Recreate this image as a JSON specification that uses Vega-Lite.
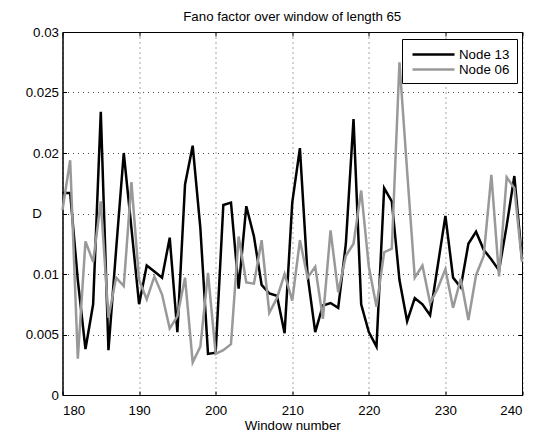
{
  "$schema": "https://vega.github.io/schema/vega-lite/v6.json",
  "width": 459.5,
  "height": 363,
  "autosize": "none",
  "padding": {"left": 62.5, "top": 32, "right": 18, "bottom": 38},
  "background": "white",
  "title": {"text": "Fano factor over window of length 65", "fontSize": 13.3, "fontWeight": "normal", "font": "Liberation Sans", "color": "black", "baseline": "alphabetic", "offset": -9, "anchor": "middle"},
  "config": {
    "view": {"stroke": "black", "strokeWidth": 1},
    "axis": {"labelFont": "Liberation Sans", "labelFontSize": 13.3, "labelColor": "black", "titleFont": "Liberation Sans", "titleFontSize": 13.3, "titleFontWeight": "normal", "titleColor": "black", "domainColor": "black", "tickColor": "black", "tickSize": -4}
  },
  "data": {"values": [
    {"window": 180, "D": 0.0167, "node": "Node 13"},
    {"window": 181, "D": 0.0167, "node": "Node 13"},
    {"window": 182, "D": 0.0095, "node": "Node 13"},
    {"window": 183, "D": 0.0038, "node": "Node 13"},
    {"window": 184, "D": 0.0075, "node": "Node 13"},
    {"window": 185, "D": 0.0234, "node": "Node 13"},
    {"window": 186, "D": 0.0037, "node": "Node 13"},
    {"window": 187, "D": 0.0120, "node": "Node 13"},
    {"window": 188, "D": 0.0200, "node": "Node 13"},
    {"window": 189, "D": 0.0138, "node": "Node 13"},
    {"window": 190, "D": 0.0075, "node": "Node 13"},
    {"window": 191, "D": 0.0107, "node": "Node 13"},
    {"window": 192, "D": 0.0102, "node": "Node 13"},
    {"window": 193, "D": 0.0097, "node": "Node 13"},
    {"window": 194, "D": 0.0130, "node": "Node 13"},
    {"window": 195, "D": 0.0052, "node": "Node 13"},
    {"window": 196, "D": 0.0174, "node": "Node 13"},
    {"window": 197, "D": 0.0206, "node": "Node 13"},
    {"window": 198, "D": 0.0138, "node": "Node 13"},
    {"window": 199, "D": 0.0034, "node": "Node 13"},
    {"window": 200, "D": 0.0035, "node": "Node 13"},
    {"window": 201, "D": 0.0157, "node": "Node 13"},
    {"window": 202, "D": 0.0159, "node": "Node 13"},
    {"window": 203, "D": 0.0088, "node": "Node 13"},
    {"window": 204, "D": 0.0156, "node": "Node 13"},
    {"window": 205, "D": 0.0131, "node": "Node 13"},
    {"window": 206, "D": 0.0091, "node": "Node 13"},
    {"window": 207, "D": 0.0084, "node": "Node 13"},
    {"window": 208, "D": 0.0082, "node": "Node 13"},
    {"window": 209, "D": 0.0051, "node": "Node 13"},
    {"window": 210, "D": 0.0159, "node": "Node 13"},
    {"window": 211, "D": 0.0204, "node": "Node 13"},
    {"window": 212, "D": 0.0099, "node": "Node 13"},
    {"window": 213, "D": 0.0052, "node": "Node 13"},
    {"window": 214, "D": 0.0074, "node": "Node 13"},
    {"window": 215, "D": 0.0076, "node": "Node 13"},
    {"window": 216, "D": 0.0072, "node": "Node 13"},
    {"window": 217, "D": 0.0125, "node": "Node 13"},
    {"window": 218, "D": 0.0228, "node": "Node 13"},
    {"window": 219, "D": 0.0075, "node": "Node 13"},
    {"window": 220, "D": 0.0052, "node": "Node 13"},
    {"window": 221, "D": 0.0040, "node": "Node 13"},
    {"window": 222, "D": 0.0171, "node": "Node 13"},
    {"window": 223, "D": 0.0160, "node": "Node 13"},
    {"window": 224, "D": 0.0095, "node": "Node 13"},
    {"window": 225, "D": 0.0061, "node": "Node 13"},
    {"window": 226, "D": 0.0080, "node": "Node 13"},
    {"window": 227, "D": 0.0075, "node": "Node 13"},
    {"window": 228, "D": 0.0066, "node": "Node 13"},
    {"window": 229, "D": 0.0107, "node": "Node 13"},
    {"window": 230, "D": 0.0148, "node": "Node 13"},
    {"window": 231, "D": 0.0097, "node": "Node 13"},
    {"window": 232, "D": 0.0089, "node": "Node 13"},
    {"window": 233, "D": 0.0125, "node": "Node 13"},
    {"window": 234, "D": 0.0135, "node": "Node 13"},
    {"window": 235, "D": 0.0120, "node": "Node 13"},
    {"window": 236, "D": 0.0112, "node": "Node 13"},
    {"window": 237, "D": 0.0103, "node": "Node 13"},
    {"window": 238, "D": 0.0140, "node": "Node 13"},
    {"window": 239, "D": 0.0181, "node": "Node 13"},
    {"window": 240, "D": 0.0112, "node": "Node 13"},
    {"window": 180, "D": 0.0153, "node": "Node 06"},
    {"window": 181, "D": 0.0194, "node": "Node 06"},
    {"window": 182, "D": 0.0030, "node": "Node 06"},
    {"window": 183, "D": 0.0127, "node": "Node 06"},
    {"window": 184, "D": 0.0110, "node": "Node 06"},
    {"window": 185, "D": 0.0160, "node": "Node 06"},
    {"window": 186, "D": 0.0064, "node": "Node 06"},
    {"window": 187, "D": 0.0097, "node": "Node 06"},
    {"window": 188, "D": 0.0090, "node": "Node 06"},
    {"window": 189, "D": 0.0176, "node": "Node 06"},
    {"window": 190, "D": 0.0095, "node": "Node 06"},
    {"window": 191, "D": 0.0079, "node": "Node 06"},
    {"window": 192, "D": 0.0098, "node": "Node 06"},
    {"window": 193, "D": 0.0083, "node": "Node 06"},
    {"window": 194, "D": 0.0055, "node": "Node 06"},
    {"window": 195, "D": 0.0065, "node": "Node 06"},
    {"window": 196, "D": 0.0097, "node": "Node 06"},
    {"window": 197, "D": 0.0027, "node": "Node 06"},
    {"window": 198, "D": 0.0040, "node": "Node 06"},
    {"window": 199, "D": 0.0101, "node": "Node 06"},
    {"window": 200, "D": 0.0034, "node": "Node 06"},
    {"window": 201, "D": 0.0037, "node": "Node 06"},
    {"window": 202, "D": 0.0042, "node": "Node 06"},
    {"window": 203, "D": 0.0131, "node": "Node 06"},
    {"window": 204, "D": 0.0093, "node": "Node 06"},
    {"window": 205, "D": 0.0092, "node": "Node 06"},
    {"window": 206, "D": 0.0128, "node": "Node 06"},
    {"window": 207, "D": 0.0068, "node": "Node 06"},
    {"window": 208, "D": 0.0080, "node": "Node 06"},
    {"window": 209, "D": 0.0100, "node": "Node 06"},
    {"window": 210, "D": 0.0078, "node": "Node 06"},
    {"window": 211, "D": 0.0128, "node": "Node 06"},
    {"window": 212, "D": 0.0097, "node": "Node 06"},
    {"window": 213, "D": 0.0106, "node": "Node 06"},
    {"window": 214, "D": 0.0063, "node": "Node 06"},
    {"window": 215, "D": 0.0136, "node": "Node 06"},
    {"window": 216, "D": 0.0085, "node": "Node 06"},
    {"window": 217, "D": 0.0115, "node": "Node 06"},
    {"window": 218, "D": 0.0125, "node": "Node 06"},
    {"window": 219, "D": 0.0169, "node": "Node 06"},
    {"window": 220, "D": 0.0106, "node": "Node 06"},
    {"window": 221, "D": 0.0073, "node": "Node 06"},
    {"window": 222, "D": 0.0118, "node": "Node 06"},
    {"window": 223, "D": 0.0121, "node": "Node 06"},
    {"window": 224, "D": 0.0275, "node": "Node 06"},
    {"window": 225, "D": 0.0185, "node": "Node 06"},
    {"window": 226, "D": 0.0097, "node": "Node 06"},
    {"window": 227, "D": 0.0107, "node": "Node 06"},
    {"window": 228, "D": 0.0076, "node": "Node 06"},
    {"window": 229, "D": 0.0088, "node": "Node 06"},
    {"window": 230, "D": 0.0104, "node": "Node 06"},
    {"window": 231, "D": 0.0072, "node": "Node 06"},
    {"window": 232, "D": 0.0096, "node": "Node 06"},
    {"window": 233, "D": 0.0062, "node": "Node 06"},
    {"window": 234, "D": 0.0099, "node": "Node 06"},
    {"window": 235, "D": 0.0115, "node": "Node 06"},
    {"window": 236, "D": 0.0182, "node": "Node 06"},
    {"window": 237, "D": 0.0098, "node": "Node 06"},
    {"window": 238, "D": 0.0180, "node": "Node 06"},
    {"window": 239, "D": 0.0171, "node": "Node 06"},
    {"window": 240, "D": 0.0110, "node": "Node 06"}
  ]},
  "layer": [
    {
      "mark": {"type": "line", "strokeWidth": 2.5},
      "encoding": {
        "x": {"field": "window", "type": "quantitative", "scale": {"domain": [180, 240], "nice": false, "zero": false},
              "axis": {"values": [180, 190, 200, 210, 220, 230, 240], "grid": true, "gridColor": "#000000", "gridDash": [1, 4], "gridOpacity": 0.7, "labelPadding": 12, "title": "Window number", "titlePadding": 2}},
        "y": {"field": "D", "type": "quantitative", "scale": {"domain": [0, 0.03], "nice": false},
              "axis": {"values": [0, 0.005, 0.01, 0.015, 0.02, 0.025, 0.03], "format": "~g", "labelExpr": "datum.value == 0.015 ? '' : datum.label", "grid": true, "gridColor": "#000000", "gridDash": [1, 4], "gridOpacity": 0.7, "labelPadding": 8, "title": "D", "titleAngle": 0, "titleX": -26, "titleY": 181, "titleAlign": "center", "titleBaseline": "middle"}},
        "color": {"field": "node", "type": "nominal", "scale": {"domain": ["Node 13", "Node 06"], "range": ["#000000", "#999999"]},
                  "legend": {"title": null, "orient": "none", "legendX": 339.5, "legendY": 7, "strokeColor": "black", "fillColor": "white", "padding": 7, "symbolType": "M-3,0H3", "symbolSize": 196, "symbolStrokeWidth": 2.5, "symbolOffset": 16, "labelOffset": 17, "labelFont": "Liberation Sans", "labelFontSize": 13.3, "labelColor": "black", "rowPadding": -3}}
      }
    },
    {
      "mark": {"type": "point", "opacity": 0},
      "encoding": {
        "x": {"field": "window", "type": "quantitative", "axis": {"orient": "top", "values": [180, 190, 200, 210, 220, 230, 240], "labels": false, "grid": false, "domain": false, "title": null}},
        "y": {"field": "D", "type": "quantitative", "axis": {"orient": "right", "values": [0, 0.005, 0.01, 0.015, 0.02, 0.025, 0.03], "labels": false, "grid": false, "domain": false, "title": null}}
      }
    }
  ],
  "resolve": {"axis": {"x": "independent", "y": "independent"}}
}
